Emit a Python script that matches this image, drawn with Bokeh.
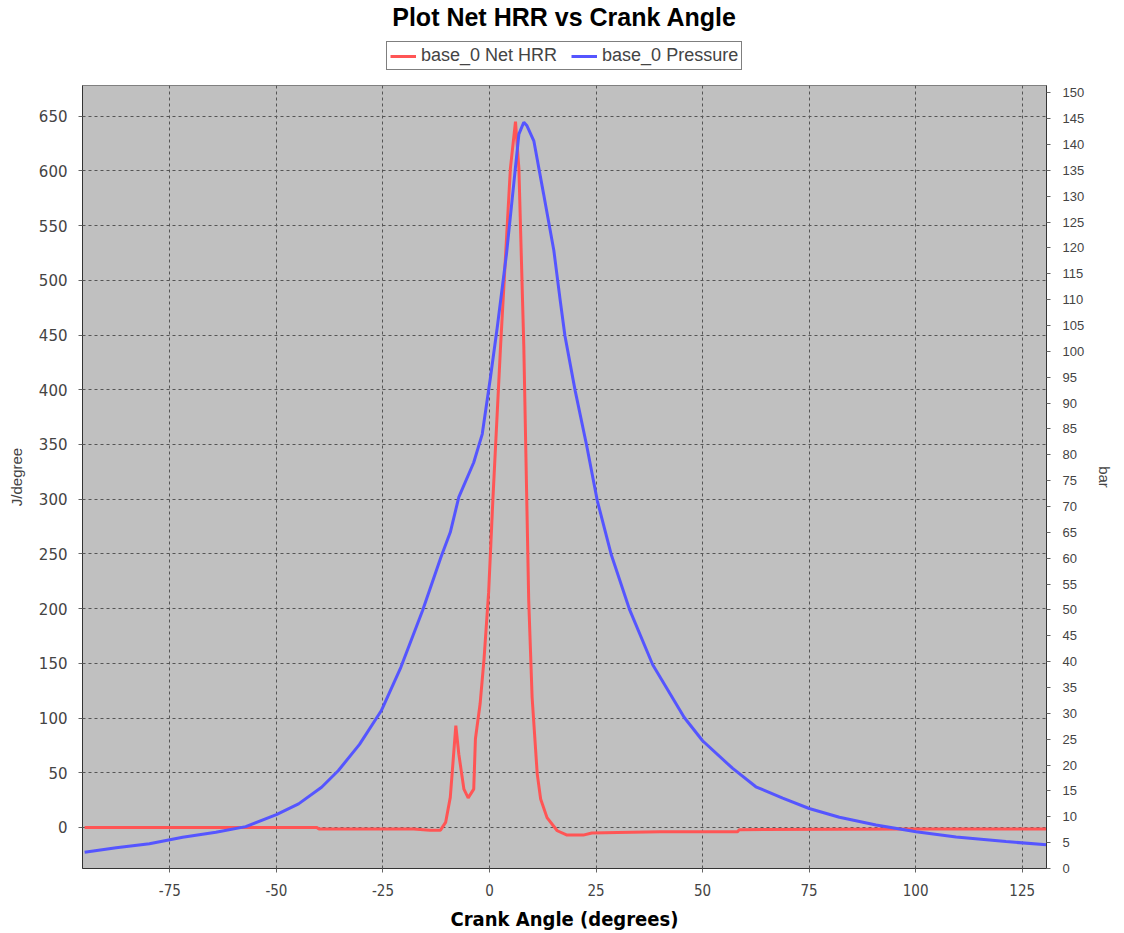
from bokeh.plotting import figure
from bokeh.layouts import column
from bokeh.models import Range1d, LinearAxis, FixedTicker, Legend, LegendItem
from bokeh.embed import file_html
from bokeh.resources import INLINE

# ---- data ----
hrr_angle = [-95, -40.5, -40, -20, -17.8, -14, -11.5, -10.3, -9.2, -7.9,
             -7.2, -6.0, -5.0, -3.7, -3.3, -2.2, -1.3, -0.2, 0.8, 2.6,
             4.9, 6.1, 6.9, 8.05, 9.2, 10.0, 11.2, 12.0, 13.5, 15.9,
             18.2, 22, 24, 30, 40, 58.2, 58.6, 100, 130.7]
hrr = [0, 0, -1.5, -1.5, -1.5, -2.5, -2.5, 4.6, 27.5, 93,
       67, 35, 27, 35, 81, 113, 153, 215, 300, 440,
       602, 645, 602, 440, 208, 119, 49, 26, 9, -3,
       -7, -7, -5, -4.5, -4, -4, -2, -1.5, -1.5]

p_angle = [-95, -87.6, -79.8, -72, -64.2, -57.2, -50, -44.8, -39.4, -35.5,
           -30.5, -25.4, -20.8, -15.7, -11.4, -9.2, -7.2, -3.7, -1.7, 0.2,
           1.8, 4.0, 6.1, 6.9, 8.05, 8.8, 10.4, 12.7, 15.1, 16.6,
           17.7, 20.1, 22.8, 25.3, 28.6, 32.9, 38.3, 45.7, 50, 57,
           62.5, 68.8, 75, 82.1, 90.7, 100.1, 109.5, 121.2, 130.7]
pressure = [3.15, 4.0, 4.8, 6.05, 7.0, 8.1, 10.4, 12.5, 15.7, 18.9,
            24.0, 30.5, 38.9, 49.9, 60.2, 65.0, 71.8, 78.5, 84.0, 94.8,
            104.5, 118.9, 135.6, 142, 144.3, 143.6, 140.7, 130.4, 119.5, 109.8,
            103, 92.4, 81.8, 71.1, 60.6, 50.0, 39.4, 29.2, 24.7, 19.4,
            15.8, 13.6, 11.6, 9.9, 8.4, 7.1, 6.1, 5.2, 4.6]

series_names = ["base_0 Net HRR", "base_0 Pressure"]
series_colors = ["#ff5555", "#5555ff"]

x_ticks = [-75, -50, -25, 0, 25, 50, 75, 100, 125]
left_ticks = list(range(0, 651, 50))
right_ticks = list(range(0, 151, 5))

FONT = "Liberation Sans"
FONT2 = "DejaVu Sans"
W = 1118

# ---------- header: title + legend ----------
top = figure(width=W, height=80, output_backend="svg", toolbar_location=None,
             x_range=Range1d(1000, 1001), y_range=Range1d(1000, 1001),
             min_border=0, min_border_top=9)
top.title.text = "Plot Net HRR vs Crank Angle"
top.title.align = "center"
top.title.text_font = FONT
top.title.text_font_size = "25px"
top.title.text_font_style = "bold"
top.title.text_color = "black"
top.title.standoff = 0
top.axis.visible = False
top.grid.visible = False
top.outline_line_color = None
top.background_fill_color = "white"
top.border_fill_color = "white"

# legend proxies (same series, outside the header's visible range)
h1 = top.line(hrr_angle, hrr, line_color=series_colors[0], line_width=3)
h2 = top.line(p_angle, pressure, line_color=series_colors[1], line_width=3)
legend = Legend(items=[LegendItem(label=series_names[0], renderers=[h1]),
                       LegendItem(label=series_names[1], renderers=[h2])],
                orientation="horizontal", location=(304, 10))
legend.label_text_font = FONT
legend.label_text_font_size = "18px"
legend.label_text_color = "#444444"
legend.border_line_color = "black"
legend.border_line_width = 1
legend.background_fill_color = "white"
legend.background_fill_alpha = 1.0
legend.glyph_width = 26
legend.glyph_height = 14
legend.padding = 3
legend.spacing = 14
legend.label_standoff = 5
legend.margin = 0
top.add_layout(legend, "center")

# ---------- main plot ----------
p = figure(frame_width=964, frame_height=783, output_backend="svg", toolbar_location=None,
           x_range=Range1d(-95.5, 130.7), y_range=Range1d(-37.5, 678),
           min_border_left=82, min_border_right=W - 82 - 964, min_border_top=5, min_border_bottom=60)
p.extra_y_ranges = {"bar": Range1d(0, 151.4)}

p.background_fill_color = "#c0c0c0"
p.border_fill_color = "white"
p.outline_line_color = "#808080"

r1 = p.line(hrr_angle, hrr, line_color=series_colors[0], line_width=3)
r2 = p.line(p_angle, pressure, line_color=series_colors[1], line_width=3, y_range_name="bar")

xa = p.xaxis[0]
xa.ticker = FixedTicker(ticks=x_ticks)
xa.major_label_overrides = {t: str(t) for t in x_ticks}
xa.axis_label = "Crank Angle (degrees)"
xa.axis_label_text_font = "DejaVu Sans Condensed"
xa.axis_label_text_font_style = "bold"
xa.axis_label_text_font_size = "20px"
xa.axis_label_text_color = "black"
xa.axis_label_standoff = 8
xa.major_label_standoff = 11
xa.major_label_text_font = "DejaVu Sans Condensed"
xa.major_label_text_font_size = "15px"
xa.major_label_text_color = "#444444"

ya = p.yaxis[0]
ya.ticker = FixedTicker(ticks=left_ticks)
ya.axis_label = "J/degree"
ya.axis_label_text_font = FONT
ya.axis_label_text_font_style = "normal"
ya.axis_label_text_font_size = "15px"
ya.axis_label_text_color = "#444444"
ya.axis_label_standoff = 11
ya.major_label_standoff = 11
ya.major_label_text_font = FONT2
ya.major_label_text_font_size = "15px"
ya.major_label_text_color = "#444444"

ra = LinearAxis(y_range_name="bar", ticker=FixedTicker(ticks=right_ticks),
                axis_label="bar")
ra.axis_label_text_font = FONT
ra.axis_label_text_font_style = "normal"
ra.axis_label_text_font_size = "15px"
ra.axis_label_text_color = "#444444"
ra.axis_label_standoff = 9
ra.major_label_standoff = 12
ra.major_label_text_font = FONT
ra.major_label_text_font_size = "13px"
ra.major_label_text_color = "#444444"
p.add_layout(ra, "right")

for ax in [xa, ya, ra]:
    ax.minor_tick_line_color = None
    ax.major_tick_in = 0
    ax.major_tick_out = 4
    ax.axis_line_color = "#333333"
    ax.major_tick_line_color = "#666666"

p.xgrid.ticker = FixedTicker(ticks=x_ticks)
p.ygrid.ticker = FixedTicker(ticks=left_ticks)
for g in [p.xgrid[0], p.ygrid[0]]:
    g.grid_line_color = "#555555"
    g.grid_line_dash = "3 3"
    g.grid_line_width = 1

layout = column(top, p, spacing=0)
open("out.html", "w").write(file_html(layout, INLINE))
